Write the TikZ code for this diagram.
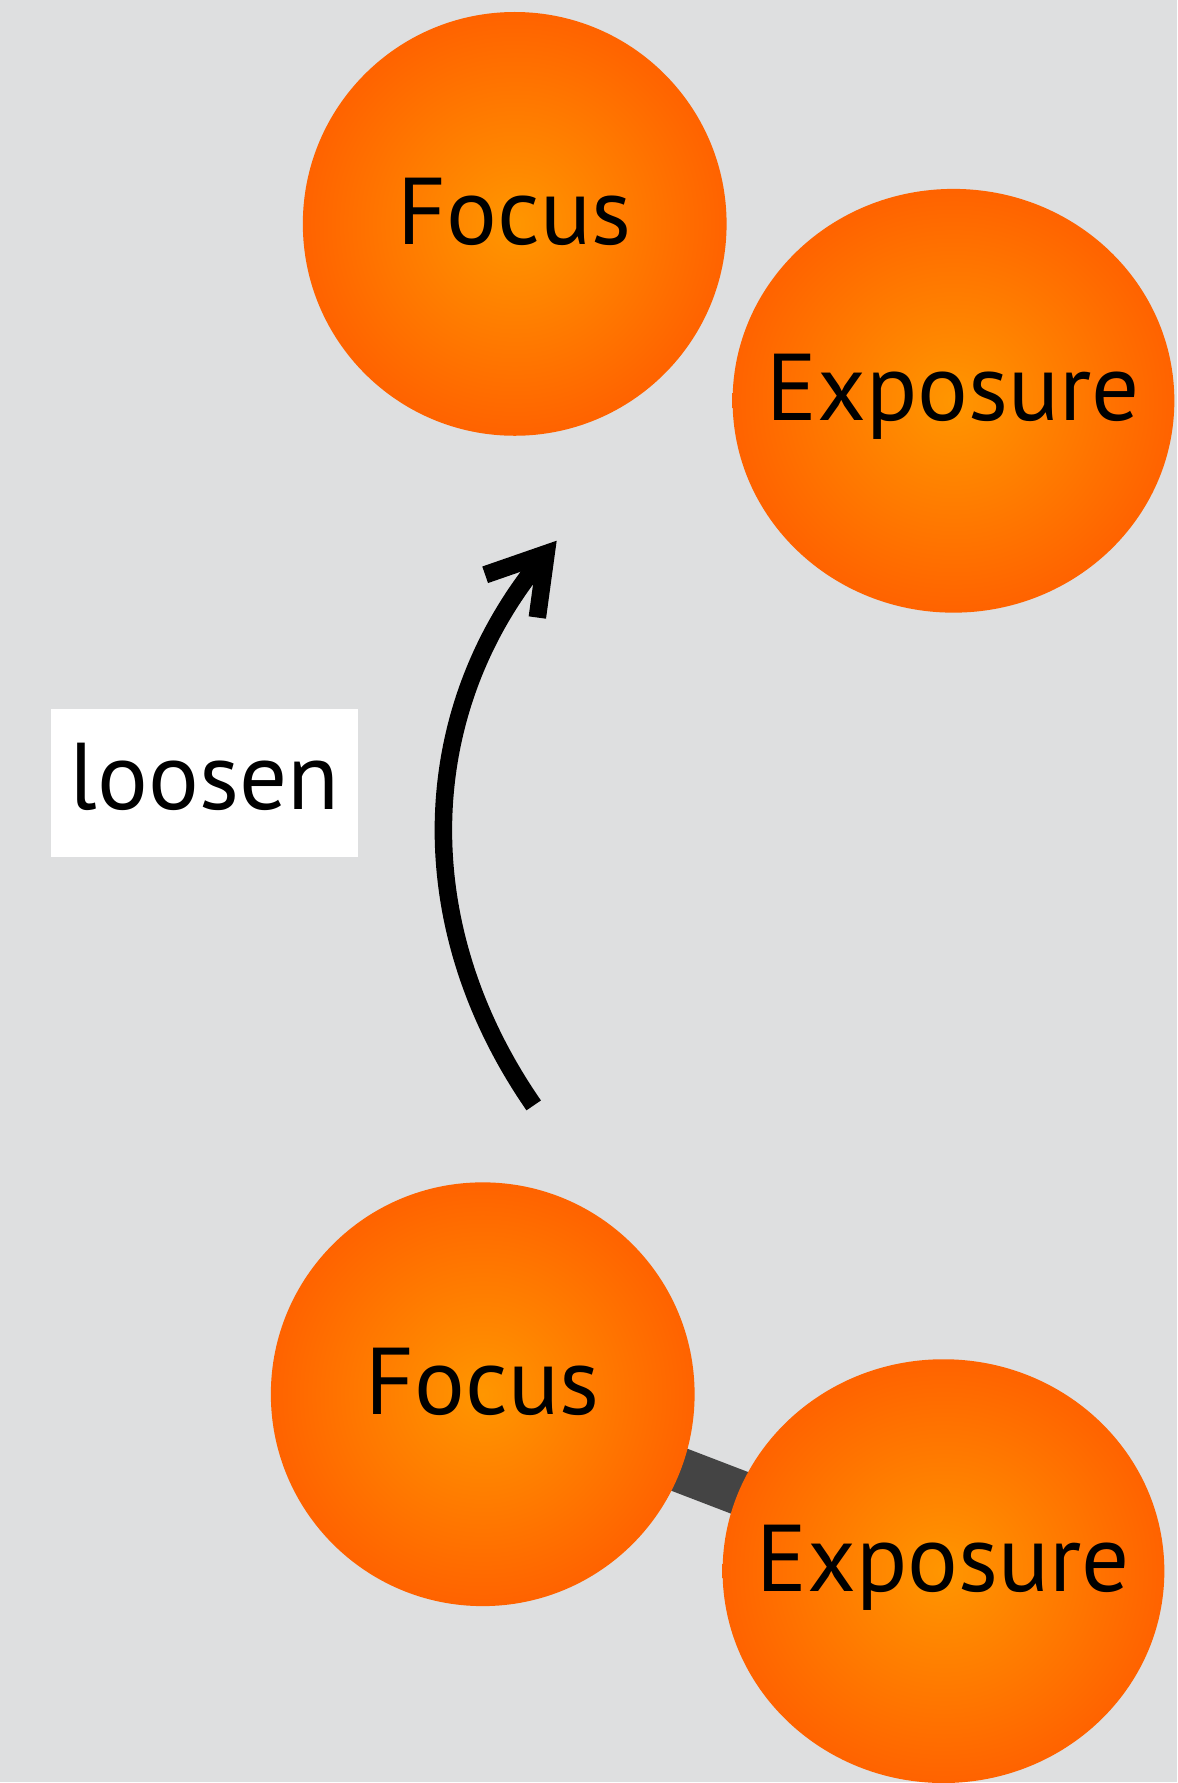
\documentclass[tikz,border=0pt]{standalone}
\usepackage{fontspec}
\setmainfont{PT Sans}
\usetikzlibrary{shapes.geometric,arrows.meta,backgrounds}

\definecolor{bggray}{RGB}{222,223,224}
\definecolor{orbin}{RGB}{255,150,0}
\definecolor{orbout}{RGB}{255,78,0}
\definecolor{linkgray}{RGB}{68,68,68}
\pgfdeclareradialshading{orbshade}{\pgfpoint{0bp}{0bp}}{color(0bp)=(orbin); color(35bp)=(orbout); color(50bp)=(orbout)}

\begin{document}
\begin{tikzpicture}[x=0.2mm, y=-0.2mm]
\tikzset{ >={Straight Barb[length=11mm, width=13.5mm, line width=3.5mm]}, inner sep=0pt, outer sep=0pt,
  ball/.style={circle, shading=orbshade, minimum size=84.8mm, text depth=5.2mm, font=\fontsize{54}{62}\selectfont},
  eball/.style={ellipse, shading=orbshade, minimum width=88.4mm, minimum height=84.8mm, inner xsep=-15mm, text depth=5.2mm, font=\fontsize{54}{62}\selectfont},
}

%\draw [lightgray, dashed](0,0) grid [step=100] (1178,1783);

\node [ball]  (F1) at (515,224)  {Focus};
\node [eball] (E1) at (954,401)  {Exposure};
\node [ball]  (F2) at (483,1395) {Focus};
\node [eball] (E2) at (944,1572) {Exposure};

\node [fill=white, minimum width=61.4mm, minimum height=29.6mm, text depth=2.6mm, font=\fontsize{54}{62}\selectfont] (L) at (204.5,783) {loosen};

\coordinate (A) at (534,1106);
\coordinate (B) at (557,541);
\draw [->, line width=3.5mm] (A) to [bend left=37] (B);

\begin{scope}[on background layer]
\fill [bggray] (0,0) rectangle (1178,1783);
\draw [linkgray, line width=9mm] (F2.center) -- (E2.center);
\end{scope}

\useasboundingbox (0,0) rectangle (1178,1783);
\end{tikzpicture}
\end{document}
